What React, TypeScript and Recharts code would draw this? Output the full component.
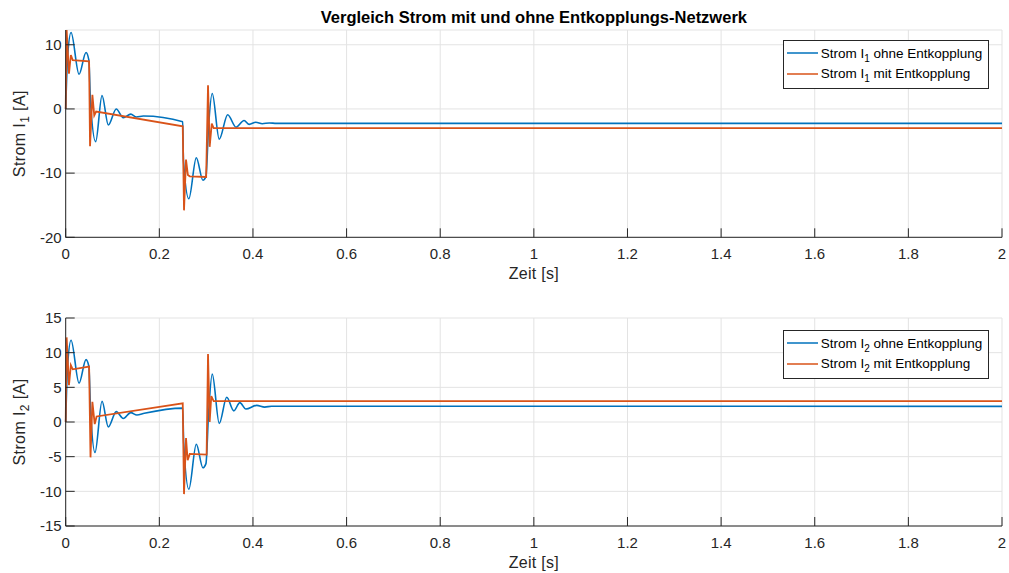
import { LineChart, Line, XAxis, YAxis, CartesianGrid, Legend } from 'recharts';

const xTicks = [0, 0.2, 0.4, 0.6, 0.8, 1, 1.2, 1.4, 1.6, 1.8, 2];
const yTicksI1 = [-20, -10, 0, 10];
const yTicksI2 = [-15, -10, -5, 0, 5, 10, 15];

// Strom I1 ohne Entkopplung
const tI1Ohne = [0, 0.004, 0.0114, 0.0285, 0.0434, 0.0495, 0.053, 0.064, 0.0776, 0.091, 0.108, 0.123, 0.139, 0.151, 0.166, 0.25, 0.2515, 0.263, 0.279, 0.293, 0.2996, 0.305, 0.313, 0.328, 0.346, 0.364, 0.381, 0.392, 0.406, 0.42, 0.435, 0.45, 2];
const vI1Ohne = [0, 8, 11.9, 5.4, 8.8, 7.6, 1, -5.1, 2.1, -2.5, 0, -1.35, -0.8, -1.25, -1.1, -2.0, -8, -14.0, -7.6, -11.1, -10.5, -3, 2.4, -4.7, -0.9, -2.85, -1.8, -2.4, -2.07, -2.3, -2.18, -2.25, -2.25];

// Strom I1 mit Entkopplung
const tI1Mit = [0, 0.002, 0.007, 0.011, 0.015, 0.05, 0.052, 0.057, 0.061, 0.065, 0.25, 0.2527, 0.257, 0.261, 0.265, 0.3, 0.304, 0.3075, 0.312, 0.316, 2];
const vI1Mit = [0, 12.3, 5.5, 8.4, 7.6, 7.4, -5.8, 2.2, -1.0, -0.4, -2.7, -15.8, -7.9, -10.3, -10.5, -10.6, 3.7, -5.9, -2.3, -3.0, -3.0];

// Strom I2 ohne Entkopplung
const tI2Ohne = [0, 0.004, 0.0114, 0.0285, 0.0434, 0.0495, 0.053, 0.0626, 0.0776, 0.091, 0.108, 0.123, 0.139, 0.152, 0.168, 0.25, 0.252, 0.263, 0.279, 0.293, 0.2996, 0.305, 0.313, 0.328, 0.344, 0.359, 0.372, 0.385, 0.408, 0.425, 0.44, 2];
const vI2Ohne = [0, 8, 11.8, 5.6, 9.0, 8.0, 2, -4.4, 3.0, -0.7, 1.5, 0.5, 1.35, 1.0, 1.25, 2.0, -3, -9.7, -3.2, -6.6, -6.0, 1, 6.9, -0.2, 3.56, 1.6, 2.8, 1.87, 2.4, 2.15, 2.28, 2.25];

// Strom I2 mit Entkopplung
const tI2Mit = [0, 0.002, 0.007, 0.011, 0.015, 0.05, 0.053, 0.057, 0.062, 0.066, 0.25, 0.2527, 0.257, 0.2605, 0.265, 0.301, 0.304, 0.3075, 0.311, 0.316, 2];
const vI2Mit = [0, 12.2, 5.3, 8.2, 7.6, 8.0, -5.1, 2.9, -0.3, 0.8, 2.7, -10.4, -2.3, -5.5, -4.6, -4.7, 9.8, 0.0, 3.75, 3.0, 3.0];

const BLUE = '#0072BD';
const ORANGE = '#D95319';
const AXIS = '#262626';
const FONT = '"Liberation Sans", Arial, sans-serif';

const zip = (t: number[], v: number[]) => t.map((x, i) => ({ t: x, v: v[i] }));

function YLabel({ viewBox, sub }: any) {
  const cy = viewBox.y + viewBox.height / 2;
  const x = viewBox.x + 9.5;
  return (
    <text transform={`rotate(-90 ${x} ${cy})`} x={x} y={cy} textAnchor="middle" fontSize={16} letterSpacing={0.4} fill={AXIS}>
      Strom I<tspan dy={4} fontSize={12}>{sub}</tspan><tspan dy={-4}> [A]</tspan>
    </text>
  );
}

function XLabel({ viewBox }: any) {
  return (
    <text x={viewBox.x + viewBox.width / 2} y={viewBox.y + 42} textAnchor="middle" fontSize={16} letterSpacing={0.3} fill={AXIS}>
      Zeit [s]
    </text>
  );
}

function LegendBox({ payload, order }: any) {
  const items = [...(payload || [])].sort((a: any, b: any) => order.indexOf(a.value) - order.indexOf(b.value));
  return (
    <div style={{ width: 206, height: 49, boxSizing: 'border-box', border: `1px solid ${AXIS}`, background: '#fff', paddingTop: 2, fontFamily: FONT }}>
      {items.map((p: any) => {
        const [a, s, b] = String(p.value).split(/_(\d)/);
        return (
          <div key={p.value} style={{ height: 20.6, display: 'flex', alignItems: 'center', fontSize: 13.5, color: '#000', whiteSpace: 'nowrap' }}>
            <svg width={37} height={4} style={{ flex: 'none' }}>
              <line x1={3} x2={34} y1={2} y2={2} stroke={p.color} strokeWidth={1.5} />
            </svg>
            <span>
              {a}
              <span style={{ fontSize: 10, position: 'relative', top: 4 }}>{s}</span>
              {b}
            </span>
          </div>
        );
      })}
    </div>
  );
}

function Panel({ sub, height, margin, domain, ticks, ohne, mit }: any) {
  const nameOhne = `Strom I_${sub} ohne Entkopplung`;
  const nameMit = `Strom I_${sub} mit Entkopplung`;
  return (
    <LineChart width={1009} height={height} margin={margin} style={{ fontFamily: FONT }}>
      <CartesianGrid stroke="#e3e3e3" strokeWidth={1} />
      <XAxis
        dataKey="t"
        type="number"
        domain={[0, 2]}
        ticks={xTicks}
        interval={0}
        height={40}
        tickSize={-9}
        tickMargin={20}
        stroke={AXIS}
        tick={{ fill: AXIS, fontSize: 15 }}
        tickFormatter={(v: number) => String(v)}
        label={{ content: (p: any) => <XLabel {...p} /> }}
      />
      <YAxis
        type="number"
        domain={domain}
        ticks={ticks}
        allowDataOverflow
        interval={0}
        width={50}
        tickSize={-9}
        tickMargin={13}
        stroke={AXIS}
        tick={{ fill: AXIS, fontSize: 15 }}
        label={{ content: (p: any) => <YLabel {...p} sub={sub} /> }}
      />
      <Legend
        layout="horizontal"
        verticalAlign="middle"
        align="center"
        wrapperStyle={{ top: 40, left: 782.7, width: 206 }}
        content={(p: any) => <LegendBox {...p} order={[nameOhne, nameMit]} />}
      />
      <Line data={ohne} dataKey="v" name={nameOhne} type="monotone" stroke={BLUE} strokeWidth={1.6} dot={false} activeDot={false} isAnimationActive={false} />
      <Line data={mit} dataKey="v" name={nameMit} type="linear" stroke={ORANGE} strokeWidth={1.8} dot={false} activeDot={false} isAnimationActive={false} />
    </LineChart>
  );
}

export default function App() {
  return (
    <div style={{ position: 'absolute', left: 0, top: 0, width: 1009, height: 573, background: '#fff', fontFamily: FONT }}>
      <div style={{ position: 'absolute', left: 65.7, top: 8, width: 936.3, textAlign: 'center', fontSize: 16.5, fontWeight: 'bold', color: '#000', lineHeight: '19px', zIndex: 2 }}>
        Vergleich Strom mit und ohne Entkopplungs-Netzwerk
      </div>
      <div style={{ position: 'absolute', left: 0, top: 0 }}>
        <Panel
          sub="1"
          height={290}
          margin={{ top: 30, right: 7, bottom: 12.7, left: 15.7 }}
          domain={[-20, 12.3]}
          ticks={yTicksI1}
          ohne={zip(tI1Ohne, vI1Ohne)}
          mit={zip(tI1Mit, vI1Mit)}
        />
      </div>
      <div style={{ position: 'absolute', left: 0, top: 290 }}>
        <Panel
          sub="2"
          height={283}
          margin={{ top: 28, right: 7, bottom: 7, left: 15.7 }}
          domain={[-15, 15]}
          ticks={yTicksI2}
          ohne={zip(tI2Ohne, vI2Ohne)}
          mit={zip(tI2Mit, vI2Mit)}
        />
      </div>
    </div>
  );
}
